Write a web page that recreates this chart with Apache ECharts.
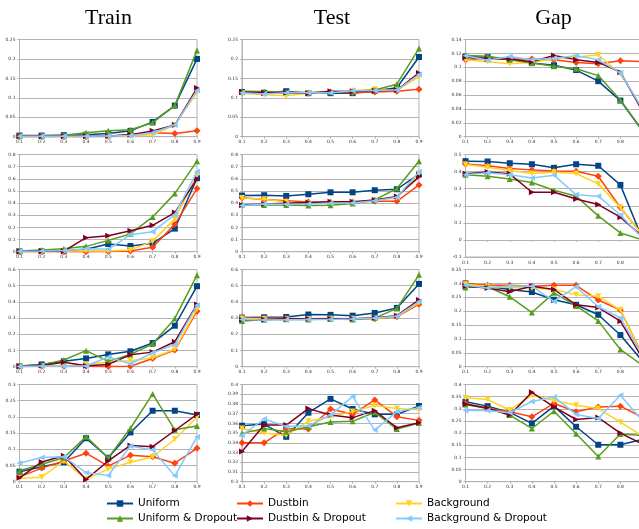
<!DOCTYPE html>
<html><head><meta charset="utf-8">
<script src="https://cdn.jsdelivr.net/npm/echarts@6/dist/echarts.min.js"></script>
<style>html,body{margin:0;padding:0;background:#fff}#c{width:639px;height:529px}</style>
</head><body><div id="c"></div>
<script>
const categories = ['0.1','0.2','0.3','0.4','0.5','0.6','0.7','0.8','0.9'];
const seriesNames = ['Uniform','Dustbin','Background','Uniform & Dropout','Dustbin & Dropout','Background & Dropout'];
const columnTitles = ['Train','Test','Gap'];

// Each panel: rows in order Uniform, Dustbin, Background, Uniform&Dropout, Dustbin&Dropout, Background&Dropout
const train1 = [
  [0.003,0.003,0.004,0.005,0.008,0.015,0.038,0.080,0.200],
  [0.000,0.000,0.000,0.000,0.001,0.005,0.010,0.008,0.015],
  [0.000,0.000,0.000,0.000,0.001,0.002,0.005,0.030,0.115],
  [0.002,0.002,0.004,0.010,0.015,0.018,0.036,0.080,0.222],
  [0.001,0.001,0.001,0.001,0.002,0.005,0.015,0.030,0.125],
  [0.001,0.001,0.001,0.001,0.002,0.003,0.010,0.030,0.119]
];
const test1 = [
  [0.115,0.113,0.117,0.112,0.112,0.112,0.118,0.126,0.205],
  [0.114,0.113,0.112,0.112,0.115,0.113,0.115,0.117,0.122],
  [0.112,0.108,0.105,0.112,0.114,0.118,0.122,0.120,0.154],
  [0.117,0.116,0.115,0.114,0.115,0.116,0.120,0.135,0.227],
  [0.115,0.113,0.114,0.112,0.117,0.116,0.118,0.120,0.164],
  [0.113,0.110,0.113,0.113,0.113,0.118,0.119,0.120,0.160]
];
const gap1 = [
  [0.1155,0.1146,0.112,0.106,0.103,0.096,0.080,0.052,0.008],
  [0.111,0.113,0.112,0.112,0.111,0.107,0.105,0.1095,0.108],
  [0.111,0.108,0.105,0.107,0.1125,0.1145,0.118,0.0905,0.040],
  [0.117,0.116,0.111,0.106,0.1015,0.098,0.088,0.053,0.009],
  [0.1146,0.112,0.112,0.108,0.117,0.111,0.107,0.093,0.037],
  [0.1165,0.110,0.1155,0.111,0.113,0.1165,0.111,0.092,0.040]
];
const train2 = [
  [0.003,0.005,0.005,0.020,0.063,0.047,0.069,0.190,0.605],
  [0.000,0.000,0.000,0.000,0.002,0.005,0.036,0.225,0.520],
  [0.000,0.002,0.003,0.008,0.005,0.015,0.085,0.270,0.630],
  [0.005,0.015,0.025,0.044,0.093,0.146,0.286,0.478,0.745],
  [0.003,0.005,0.005,0.115,0.132,0.173,0.217,0.322,0.600],
  [0.003,0.005,0.010,0.025,0.020,0.140,0.165,0.305,0.657]
];
const test2 = [
  [0.462,0.465,0.459,0.473,0.489,0.489,0.506,0.514,0.638],
  [0.445,0.429,0.420,0.410,0.407,0.410,0.415,0.415,0.550],
  [0.443,0.432,0.410,0.396,0.400,0.404,0.423,0.445,0.643],
  [0.388,0.385,0.385,0.380,0.382,0.396,0.426,0.520,0.745],
  [0.385,0.393,0.399,0.404,0.412,0.412,0.426,0.454,0.616],
  [0.380,0.393,0.390,0.393,0.399,0.400,0.420,0.448,0.657]
];
const gap2 = [
  [0.461,0.459,0.449,0.443,0.422,0.443,0.434,0.322,0.005],
  [0.445,0.434,0.418,0.410,0.404,0.402,0.373,0.190,0.030],
  [0.441,0.426,0.406,0.389,0.396,0.389,0.328,0.190,0.030],
  [0.381,0.373,0.357,0.336,0.291,0.256,0.141,0.041,0.000],
  [0.387,0.398,0.387,0.279,0.279,0.240,0.207,0.133,0.020],
  [0.381,0.393,0.381,0.363,0.379,0.264,0.256,0.146,0.010]
];
const train3 = [
  [0.004,0.014,0.033,0.051,0.076,0.095,0.146,0.253,0.497],
  [0.002,0.003,0.003,0.003,0.002,0.003,0.051,0.103,0.343],
  [0.002,0.004,0.005,0.014,0.029,0.037,0.055,0.107,0.355],
  [0.005,0.010,0.041,0.099,0.033,0.076,0.140,0.298,0.565],
  [0.003,0.007,0.027,0.006,0.014,0.074,0.090,0.154,0.384],
  [0.002,0.004,0.005,0.004,0.060,0.018,0.086,0.136,0.380]
];
const test3 = [
  [0.303,0.305,0.307,0.322,0.320,0.315,0.332,0.363,0.511],
  [0.300,0.300,0.298,0.296,0.297,0.296,0.296,0.308,0.386],
  [0.297,0.295,0.293,0.295,0.296,0.296,0.298,0.310,0.394],
  [0.282,0.290,0.293,0.292,0.295,0.292,0.300,0.360,0.567],
  [0.290,0.292,0.296,0.296,0.296,0.296,0.302,0.315,0.412],
  [0.292,0.288,0.290,0.292,0.292,0.295,0.300,0.312,0.402]
];
const gap3 = [
  [0.300,0.290,0.278,0.269,0.241,0.223,0.187,0.114,0.020],
  [0.300,0.293,0.293,0.290,0.293,0.293,0.240,0.204,0.042],
  [0.297,0.290,0.285,0.283,0.278,0.259,0.254,0.204,0.040],
  [0.285,0.288,0.252,0.195,0.266,0.219,0.165,0.062,0.005],
  [0.290,0.283,0.270,0.290,0.278,0.223,0.213,0.164,0.030],
  [0.293,0.283,0.291,0.290,0.235,0.288,0.216,0.176,0.040]
];
const train4 = [
  [0.031,0.046,0.060,0.134,0.074,0.152,0.219,0.219,0.206],
  [0.015,0.042,0.064,0.088,0.048,0.082,0.077,0.057,0.103],
  [0.011,0.014,0.064,0.008,0.039,0.060,0.077,0.131,0.199],
  [0.034,0.054,0.074,0.139,0.074,0.165,0.271,0.160,0.172],
  [0.012,0.061,0.080,0.007,0.064,0.112,0.108,0.158,0.208],
  [0.057,0.075,0.077,0.028,0.019,0.110,0.098,0.018,0.138]
];
const test4 = [
  [0.3576,0.3593,0.3462,0.3710,0.3852,0.3748,0.3693,0.3693,0.3779],
  [0.3400,0.3400,0.3548,0.3541,0.3748,0.3693,0.3841,0.3669,0.3631],
  [0.3548,0.3500,0.3479,0.3621,0.3669,0.3721,0.3783,0.3752,0.3741],
  [0.3497,0.3548,0.3514,0.3566,0.3614,0.3621,0.3714,0.3541,0.3603],
  [0.3310,0.3583,0.3583,0.3752,0.3686,0.3659,0.3731,0.3555,0.3607],
  [0.3479,0.3645,0.3569,0.3576,0.3686,0.3876,0.3531,0.3721,0.3762]
];
const gap4 = [
  [0.329,0.311,0.285,0.240,0.311,0.226,0.152,0.152,0.174],
  [0.322,0.301,0.288,0.267,0.322,0.288,0.307,0.311,0.265],
  [0.345,0.338,0.295,0.356,0.334,0.315,0.301,0.245,0.188],
  [0.318,0.301,0.274,0.219,0.290,0.197,0.104,0.196,0.190],
  [0.319,0.303,0.274,0.368,0.308,0.256,0.264,0.200,0.155],
  [0.293,0.293,0.284,0.330,0.349,0.277,0.260,0.356,0.250]
];

const colors = ['#004586','#ff420e','#ffd320','#579d1c','#7e0021','#83caff'];
const symbols = ['rect','diamond','triangle','triangle','triangle','triangle'];
const symbolRot = [0,0,180,0,-90,90];
const symbolSizes = [6,7,6,6,6,6];

const panels = [
  {data:train1,col:0,row:0,min:0,max:0.25,step:0.05},
  {data:test1,col:1,row:0,min:0,max:0.25,step:0.05},
  {data:gap1,col:2,row:0,min:0,max:0.14,step:0.02},
  {data:train2,col:0,row:1,min:0,max:0.8,step:0.1},
  {data:test2,col:1,row:1,min:0,max:0.8,step:0.1},
  {data:gap2,col:2,row:1,min:-0.1,max:0.5,step:0.1,h:102.5},
  {data:train3,col:0,row:2,min:0,max:0.6,step:0.1},
  {data:test3,col:1,row:2,min:0,max:0.6,step:0.1},
  {data:gap3,col:2,row:2,min:0,max:0.35,step:0.05},
  {data:train4,col:0,row:3,min:0,max:0.3,step:0.05},
  {data:test4,col:1,row:3,min:0.3,max:0.4,step:0.01},
  {data:gap4,col:2,row:3,min:0,max:0.4,step:0.05}
];
const colLeft = [19.5, 242, 465.5];
const colWidth = [177.5, 177, 177];
const rowTop = [39.5, 154.5, 269.5, 384.5];
const rowH = 97.2;

const grid=[], xAxis=[], yAxis=[], series=[];
panels.forEach((p,i)=>{
  grid.push({left:colLeft[p.col], top:rowTop[p.row], width:colWidth[p.col], height:p.h||rowH,
    outerBoundsMode:'none', containLabel:false,
    show:true, borderColor:'#b3b3b3', borderWidth:1, backgroundColor:'transparent'});
  xAxis.push({type:'category', gridIndex:i, data:categories, boundaryGap:false,
    axisLine:{lineStyle:{color:'#b3b3b3',width:1}},
    axisTick:{show:true,length:2,lineStyle:{color:'#b3b3b3'}},
    axisLabel:{fontSize:4.5,color:'#333',margin:3,fontFamily:'DejaVu Sans'},
    splitLine:{show:false}});
  yAxis.push({type:'value', gridIndex:i, min:p.min, max:p.max, interval:p.step,
    axisLine:{show:true,lineStyle:{color:'#b3b3b3',width:1}},
    axisTick:{show:true,length:2,lineStyle:{color:'#b3b3b3'}},
    axisLabel:{fontSize:4.5,color:'#333',margin:4,fontFamily:'DejaVu Sans'},
    splitLine:{show:true,lineStyle:{color:'#b3b3b3',width:1}}});
  p.data.forEach((vals,k)=>{
    series.push({type:'line', name:seriesNames[k], xAxisIndex:i, yAxisIndex:i, data:vals,
      symbol:symbols[k], symbolRotate:symbolRot[k], symbolSize:symbolSizes[k], showSymbol:true,
      lineStyle:{color:colors[k],width:1.5}, itemStyle:{color:colors[k]},
      z:2+k, animation:false});
  });
});

const titleX = [103.5, 327, 548.5];
const title = columnTitles.map((t,i)=>({text:t, left:titleX[i], top:2, textAlign:'center',
  textStyle:{fontFamily:'Liberation Serif',fontSize:22,fontWeight:'normal',color:'#000'}}));

const legendPos = [[106,498],[236,498],[395,498],[106,513],[236,513],[395,513]];
const legend = seriesNames.map((n,k)=>({data:[n], left:legendPos[k][0], top:legendPos[k][1],
  itemWidth:26, itemHeight:8, textStyle:{fontSize:10.5,fontFamily:'DejaVu Sans',color:'#000'},
  selectedMode:false, padding:0}));

const chart = echarts.init(document.getElementById('c'), null, {renderer:'canvas'});
chart.setOption({backgroundColor:'#fff', animation:false, color:colors, title, legend, grid, xAxis, yAxis, series});
</script>
</body></html>
